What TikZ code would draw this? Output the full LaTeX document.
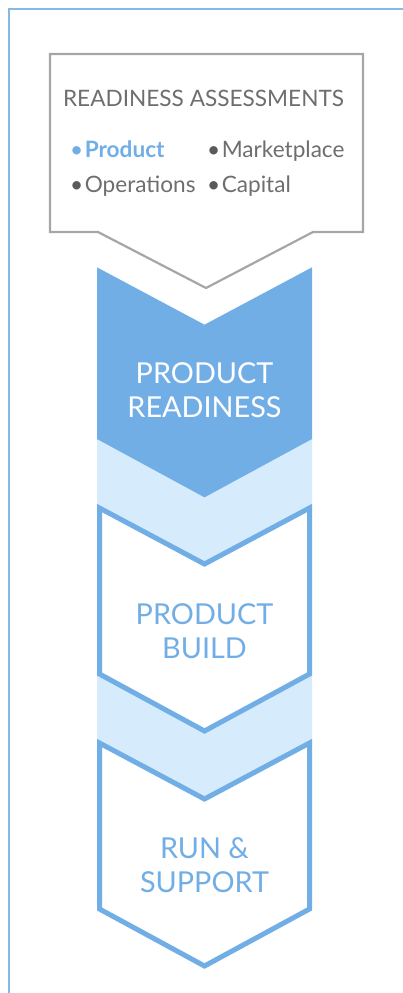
\documentclass[tikz,border=0pt]{standalone}
\usepackage{fontspec}
\setmainfont{Lato}
\usepackage{tikz}

\definecolor{stepblue}{HTML}{72AEE6}
\definecolor{bandblue}{HTML}{D6EBFC}
\definecolor{framblue}{HTML}{85B9EA}
\definecolor{boxgray}{HTML}{A6A6A6}
\definecolor{textgray}{HTML}{6E6E6E}
\definecolor{dotgray}{HTML}{5A5A5A}

\begin{document}
\begin{tikzpicture}[x=1pt,y=-1pt,
    item/.style={draw=none,anchor=base west,inner sep=0pt,text=textgray,font=\fontsize{22.6}{26}\selectfont},
    steptext/.style={draw=none,align=center,inner sep=0pt,font=\fontsize{28.8}{34}\selectfont}]

\useasboundingbox (0,0) rectangle (402,993);
\draw[framblue,line width=2pt] (9,994) -- (9,9) -- (403,9); % Outer frame

% Assessment box
\draw[boxgray,line width=2.2pt] (50,54) -- (363,54) -- (363,232) -- (313,232)
    -- (206,288) -- (98,232) -- (50,232) -- cycle;
\node [item,anchor=base] (title) at (203.5,106) {READINESS ASSESSMENTS};
\node [item,text=stepblue] (product) at (70,157) {•\hspace{1.5pt}\textbf{Product}};
\node [item] (market) at (207,157) {\textcolor{dotgray}{•}\hspace{1.5pt}Marketplace};
\node [item] (operations) at (70,192) {\textcolor{dotgray}{•}\hspace{1.5pt}Operations};
\node [item] (capital) at (207,192) {\textcolor{dotgray}{•}\hspace{1.5pt}Capital};

% Light bands between steps
\foreach \Top/\Next in {271.5/508, 508/743}{
    \fill[bandblue] (97,\Top+166) -- (204.5,\Top+223) -- (312,\Top+166)
        -- (312,\Next) -- (204.5,\Next+56) -- (97,\Next) -- cycle;
}

% Step chevrons
\foreach \Top/\Fill in {271.5/stepblue, 508/white, 743/white}{
    \draw[stepblue,fill=\Fill,line width=5pt,miter limit=4] (99.5,\Top) -- (204.5,\Top+56)
        -- (309.5,\Top) -- (309.5,\Top+166) -- (204.5,\Top+223) -- (99.5,\Top+166) -- cycle;
}

\node [steptext,text=white] (readiness) at (204.5,390) {PRODUCT\\READINESS};
\node [steptext,text=stepblue] (build) at (204.5,631.5) {PRODUCT\\BUILD};
\node [steptext,text=stepblue] (run) at (204.5,865.5) {RUN \&\\SUPPORT};

\end{tikzpicture}
\end{document}
